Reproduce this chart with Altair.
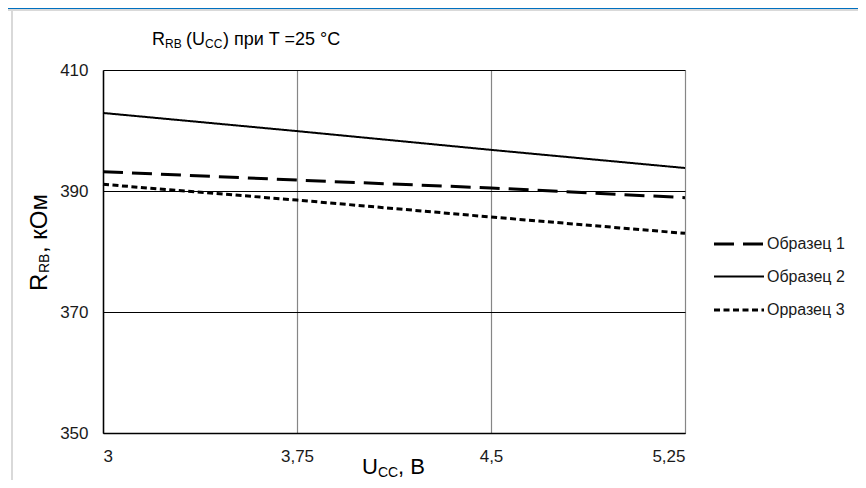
import altair as alt
import pandas as pd

# ---- data ----
u_cc = [3, 3.75, 4.5, 5.25]
sample1 = [393.2, 391.8, 390.5, 388.9]   # Образец 1 (long dashes)
sample2 = [402.9, 399.9, 396.8, 393.8]   # Образец 2 (solid)
sample3 = [391.1, 388.5, 385.7, 383.0]   # Оррaзец 3 (short dashes)
series_names = ["Образец 1", "Образец 2", "Оррaзец 3".replace("a", "а")]
x_ticks = [3, 3.75, 4.5, 5.25]
y_ticks = [350, 370, 390, 410]

rows = []
for name, vals in zip(series_names, [sample1, sample2, sample3]):
    for u, r in zip(u_cc, vals):
        rows.append({"U": u, "R": r, "series": name})
df = pd.DataFrame(rows)

FONT = "Liberation Sans"
OX, OY = 103, 70  # plot origin on page


def txt(text, page_x, page_y, size, angle=0):
    return alt.Chart(alt.Data(values=[{}])).mark_text(
        text=text, align="left", baseline="alphabetic", fontSize=size,
        font=FONT, angle=angle, color="#000000"
    ).encode(x=alt.value(page_x - OX), y=alt.value(page_y - OY))


def box(x1, y1, x2, y2, color):
    return alt.Chart(alt.Data(values=[{}])).mark_rect(color=color).encode(
        x=alt.value(x1 - OX), x2=alt.value(x2 - OX),
        y=alt.value(y1 - OY), y2=alt.value(y2 - OY))


lines = alt.Chart(df).mark_line(color="black", clip=False).encode(
    x=alt.X("U:Q", scale=alt.Scale(domain=[3, 5.25], nice=False, zero=False),
            axis=alt.Axis(values=x_ticks, title=None, grid=True, gridColor="#868686",
                          gridWidth=1.2, domainColor="black", domainWidth=1.5,
                          ticks=False, labelFontSize=17, labelFont=FONT,
                          labelColor="#1a1a1a", labelPadding=15,
                          labelExpr="replace(toString(datum.value), '.', ',')")),
    y=alt.Y("R:Q", scale=alt.Scale(domain=[350, 410], nice=False, zero=False),
            axis=alt.Axis(values=y_ticks, title=None, grid=True, gridColor="black",
                          gridWidth=1.2, domainColor="black", domainWidth=1.5,
                          ticks=False, labelFontSize=17, labelFont=FONT,
                          labelColor="#1a1a1a", labelPadding=15)),
    strokeDash=alt.StrokeDash(
        "series:N",
        scale=alt.Scale(domain=series_names, range=[[20, 9], [1, 0], [6, 3.5]]),
        legend=alt.Legend(title=None, orient="none", legendX=622, legendY=160,
                          symbolType="M-2,0H2", symbolSize=625,
                          symbolStrokeColor="black", symbolStrokeWidth=2.5,
                          labelFontSize=16, labelFont=FONT, labelColor="#1a1a1a",
                          labelOffset=14, rowPadding=11)),
    strokeWidth=alt.StrokeWidth(
        "series:N",
        scale=alt.Scale(type="ordinal", domain=series_names, range=[3, 2, 3]),
        legend=None),
)

decor = [
    box(8, 8, 866, 9, "#0070C0"),
    box(8, 9, 866, 11, "#D9D9D9"),
    box(11, 9, 13, 488, "#D9D9D9"),
]

labels = [
    # chart title: R_RB (U_CC) при T =25 °C
    txt("R", 152, 45, 18),
    txt("RB", 165, 48, 12),
    txt("(U", 186, 45, 18),
    txt("CC", 205, 48, 12),
    txt(") при T =25 °C", 223, 45, 18),
    # x title: U_CC, В
    txt("U", 362, 474, 22),
    txt("CC", 378, 477, 14),
    txt(", В", 398, 474, 22),
    # y title: R_RB, кОм (rotated)
    txt("R", 47, 291, 24, angle=270),
    txt("RB", 49, 273, 14, angle=270),
    txt(", кОм", 47, 253, 24, angle=270),
]

chart = alt.layer(*decor, lines, *labels).properties(
    width=582, height=363,
    autosize=alt.AutoSizeParams(type="none"),
    padding={"left": 95, "top": 62, "right": 173, "bottom": 47},
).configure_view(stroke=None).configure(background="white")

chart.save("out.html", embed_options={"renderer": "svg", "actions": False})
